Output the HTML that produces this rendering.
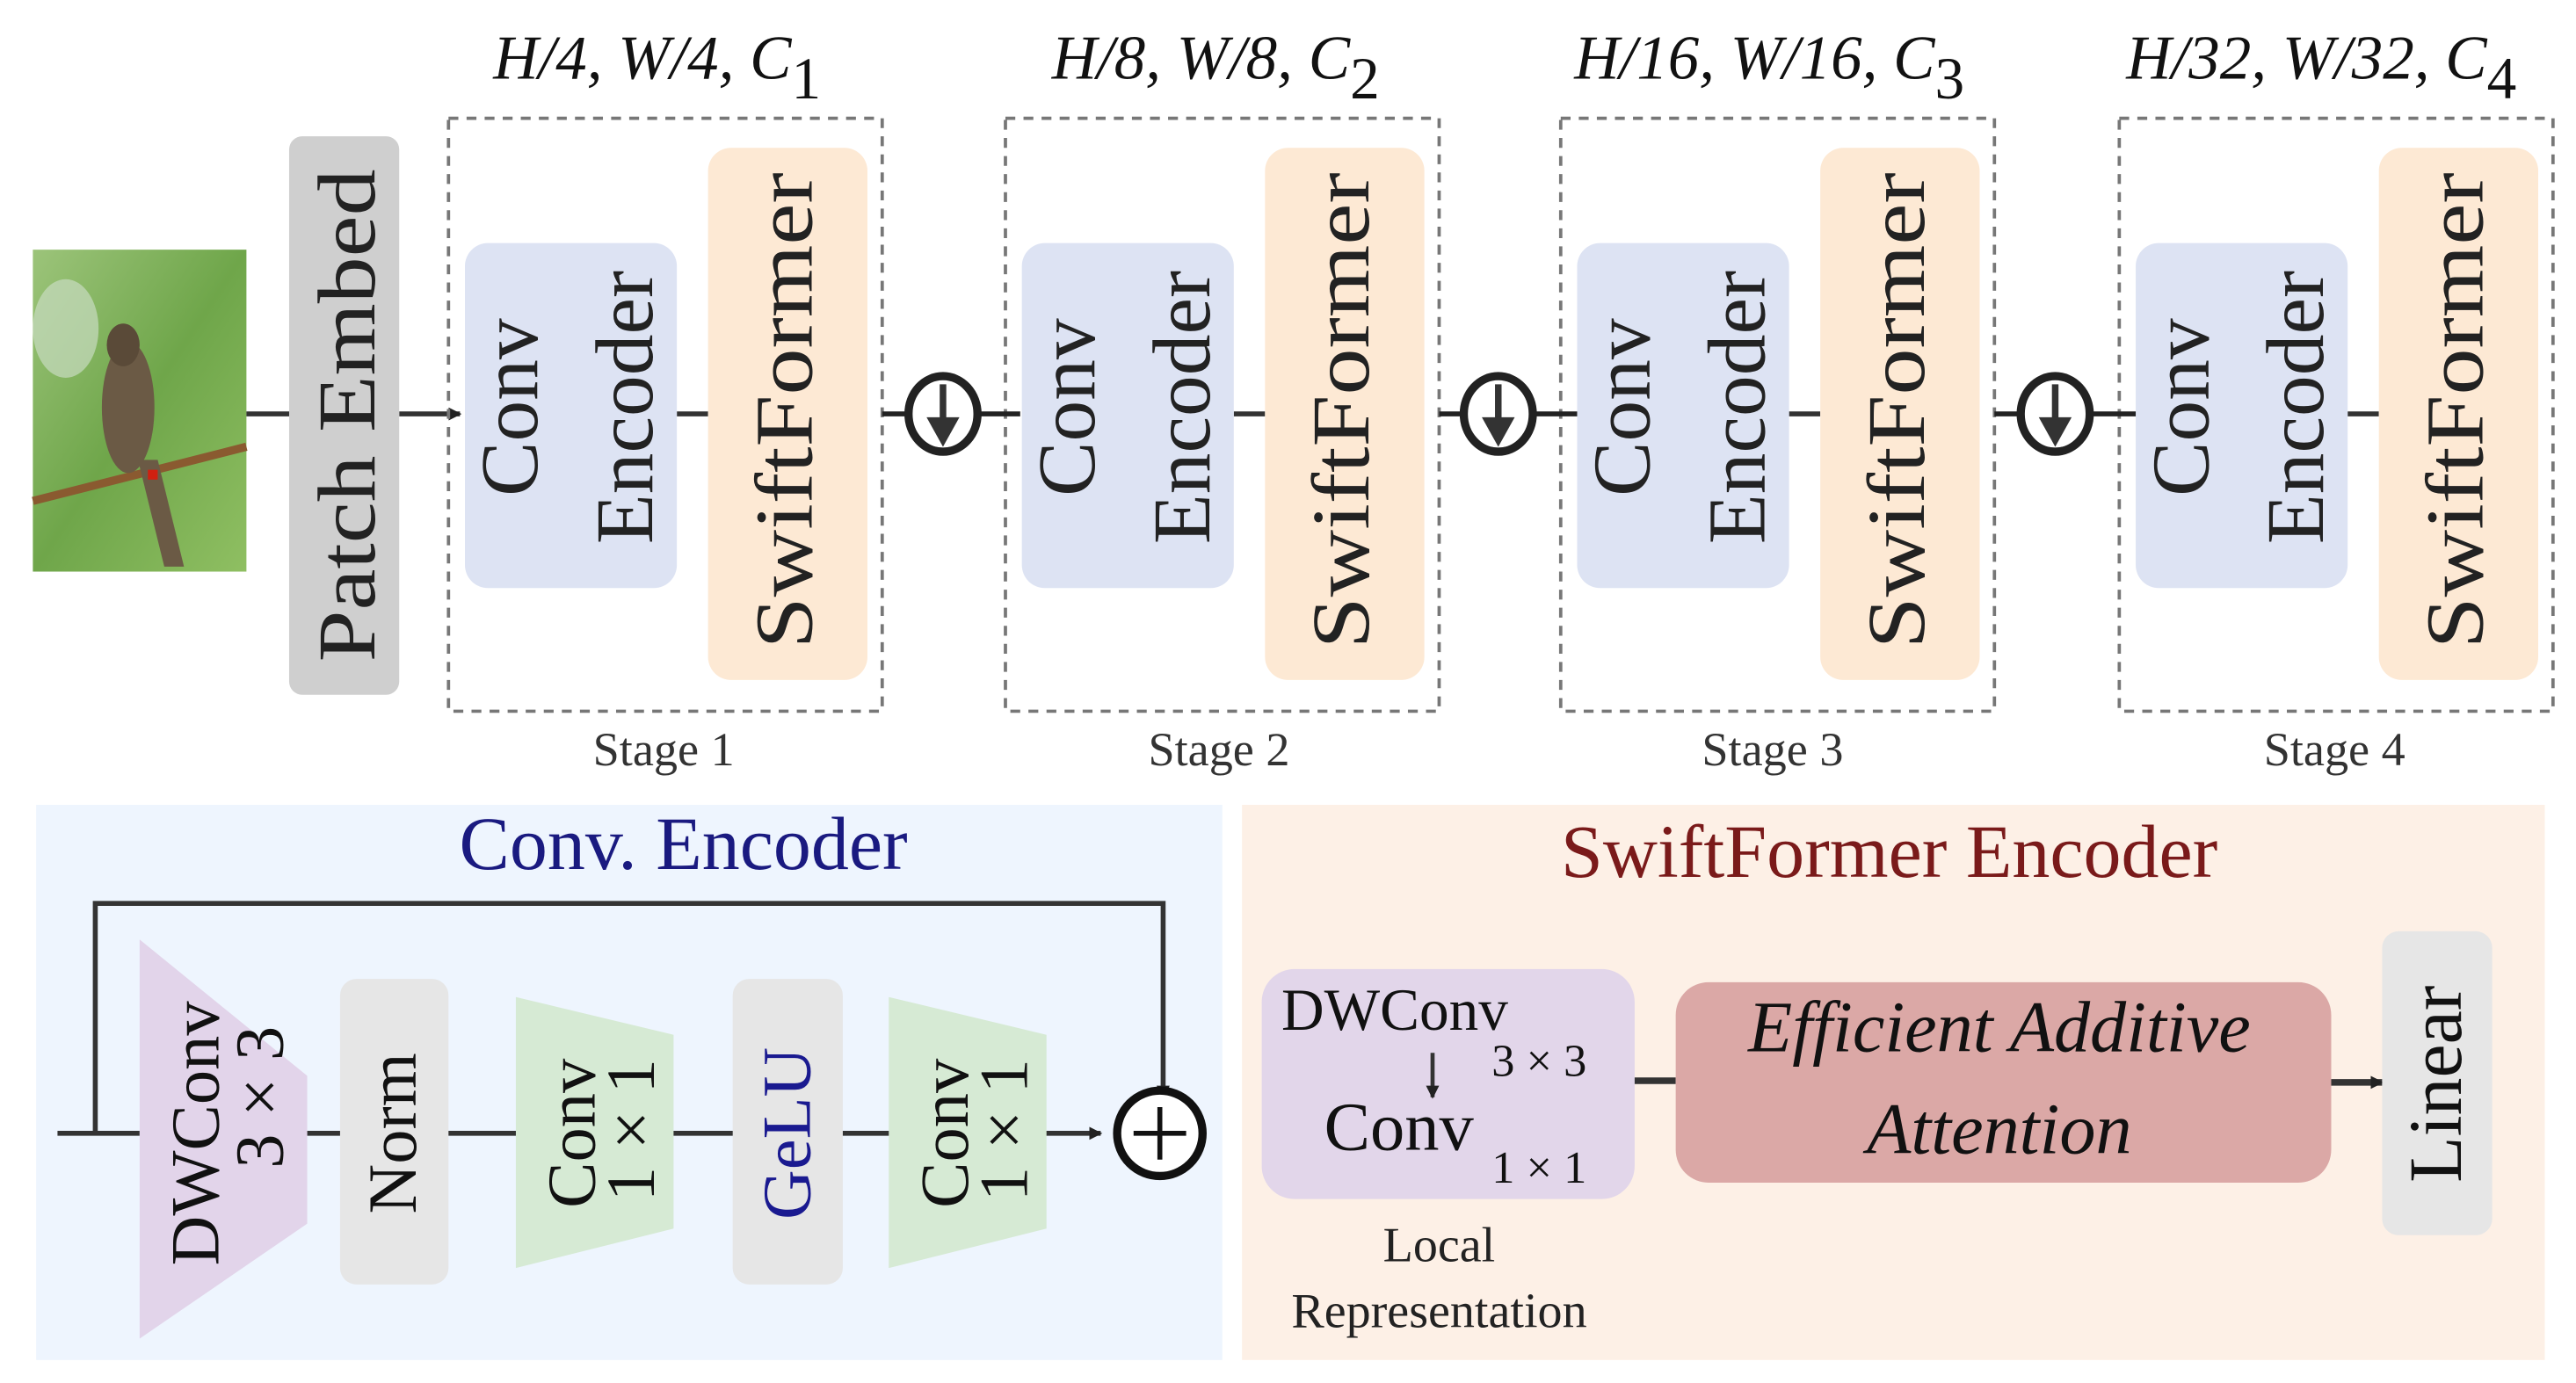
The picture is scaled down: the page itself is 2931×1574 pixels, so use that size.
<!DOCTYPE html>
<html><head><meta charset="utf-8"><style>
html,body{margin:0;padding:0;background:#fff;}
svg{display:block;}
svg text{font-family:"Liberation Serif","Times New Roman","Tinos","DejaVu Serif","Noto Serif CJK SC",serif !important;}
</style></head><body>
<svg width="2931" height="1574" viewBox="0 0 1568 842" preserveAspectRatio="none" xmlns="http://www.w3.org/2000/svg">
<defs>
<marker id="ah" markerWidth="8" markerHeight="8" refX="7" refY="4" orient="auto" markerUnits="userSpaceOnUse"><path d="M0,0 L8,4 L0,8 z" fill="#222"/></marker>
<linearGradient id="bg" x1="0" y1="0" x2="1" y2="1"><stop offset="0" stop-color="#9cc47a"/><stop offset="0.5" stop-color="#6fa64a"/><stop offset="1" stop-color="#8fbf62"/></linearGradient>
</defs>
<rect x="20" y="152" width="130" height="196" fill="url(#bg)"/>
<ellipse cx="40" cy="200" rx="20" ry="30" fill="#c8dcc0" opacity="0.7"/>
<line x1="20" y1="305" x2="150" y2="272" stroke="#8a5a30" stroke-width="5"/>
<ellipse cx="78" cy="248" rx="16" ry="40" fill="#6b5a45"/>
<ellipse cx="75" cy="210" rx="10" ry="13" fill="#5a4a38"/>
<polygon points="84,280 100,345 112,345 96,280" fill="#6b5a45"/>
<rect x="90" y="286" width="6" height="6" fill="#d02010"/>
<line x1="150" y1="252" x2="176" y2="252" stroke="#333" stroke-width="3"/>
<line x1="243" y1="252" x2="280" y2="252" stroke="#333" stroke-width="3" marker-end="url(#ah)"/>
<rect x="176" y="83" width="67" height="340" rx="8" fill="#cfcfcf"/>
<text transform="translate(228,253) rotate(-90)" text-anchor="middle" font-size="50" fill="#222" textLength="300" lengthAdjust="spacingAndGlyphs">Patch Embed</text>

<g id="stage">
<rect x="273" y="72" width="264" height="361" fill="none" stroke="#777" stroke-width="2" stroke-dasharray="6,5"/>
<line x1="412" y1="252" x2="431" y2="252" stroke="#333" stroke-width="3"/>
<rect x="283" y="148" width="129" height="210" rx="14" fill="#dde3f3"/>
<rect x="431" y="90" width="97" height="324" rx="14" fill="#fde9d4"/>
<text transform="translate(327,248) rotate(-90)" text-anchor="middle" font-size="50" fill="#222">Conv</text>
<text transform="translate(397,248) rotate(-90)" text-anchor="middle" font-size="50" fill="#222">Encoder</text>
<text transform="translate(494,250) rotate(-90)" text-anchor="middle" font-size="50" fill="#222" textLength="290" lengthAdjust="spacingAndGlyphs">SwiftFormer</text>
</g>
<use href="#stage" x="339"/>
<use href="#stage" x="677"/>
<use href="#stage" x="1017"/>

<g stroke="#222" stroke-width="3">
<line x1="537" y1="252" x2="621" y2="252"/>
<line x1="876" y1="252" x2="960" y2="252"/>
<line x1="1214" y1="252" x2="1300" y2="252"/>
</g>
<g id="ds">
<ellipse cx="574" cy="252" rx="21" ry="23" fill="#fff" stroke="#222" stroke-width="5"/>
<line x1="574" y1="234" x2="574" y2="256" stroke="#333" stroke-width="4"/>
<polygon points="564,254 584,254 574,272" fill="#333"/>
</g>
<use href="#ds" x="338"/>
<use href="#ds" x="677"/>

<g font-size="38" font-style="italic" fill="#111" text-anchor="middle">
<text x="400" y="48">H/4, W/4, C<tspan font-style="normal" font-size="36" dy="12">1</tspan></text>
<text x="740" y="48">H/8, W/8, C<tspan font-style="normal" font-size="36" dy="12">2</tspan></text>
<text x="1077" y="48">H/16, W/16, C<tspan font-style="normal" font-size="36" dy="12">3</tspan></text>
<text x="1413" y="48">H/32, W/32, C<tspan font-style="normal" font-size="36" dy="12">4</tspan></text>
</g>
<g font-size="29" fill="#333" text-anchor="middle">
<text x="404" y="466">Stage  1</text>
<text x="742" y="466">Stage 2</text>
<text x="1079" y="466">Stage 3</text>
<text x="1421" y="466">Stage 4</text>
</g>

<rect x="22" y="490" width="722" height="338" fill="#eef5fe"/>
<text x="416" y="529" text-anchor="middle" font-size="46" fill="#1a1a80">Conv. Encoder</text>
<polyline points="58,690 58,550 708,550 708,668" fill="none" stroke="#333" stroke-width="3" marker-end="url(#ah)"/>
<line x1="35" y1="690" x2="85" y2="690" stroke="#333" stroke-width="3"/>
<line x1="187" y1="690" x2="670" y2="690" stroke="#333" stroke-width="3" marker-end="url(#ah)"/>
<polygon points="85,572 187,655 187,745 85,815" fill="#e2d4ea"/>
<rect x="207" y="596" width="66" height="186" rx="10" fill="#e6e6e6"/>
<polygon points="314,607 410,630 410,748 314,772" fill="#d6ead4"/>
<rect x="446" y="596" width="67" height="186" rx="10" fill="#e6e6e6"/>
<polygon points="541,607 637,630 637,748 541,772" fill="#d6ead4"/>
<g font-size="42" fill="#111" text-anchor="middle">
<text transform="translate(133,690) rotate(-90)">DWConv</text>
<text transform="translate(172,668) rotate(-90)">3 × 3</text>
<text transform="translate(253,690) rotate(-90)">Norm</text>
<text transform="translate(362,690) rotate(-90)">Conv</text>
<text transform="translate(398,688) rotate(-90)">1 × 1</text>
<text transform="translate(493,690) rotate(-90)" fill="#1a1a90">GeLU</text>
<text transform="translate(589,690) rotate(-90)">Conv</text>
<text transform="translate(625,688) rotate(-90)">1 × 1</text>
</g>
<circle cx="706" cy="690" r="26" fill="#fff" stroke="#111" stroke-width="5"/>
<line x1="690" y1="690" x2="722" y2="690" stroke="#111" stroke-width="3"/>
<line x1="706" y1="674" x2="706" y2="706" stroke="#111" stroke-width="3"/>

<rect x="756" y="490" width="793" height="338" fill="#fdf0e6"/>
<text x="1150" y="534" text-anchor="middle" font-size="46" fill="#7a1a1a">SwiftFormer Encoder</text>
<rect x="768" y="590" width="227" height="140" rx="20" fill="#e2d6ea"/>
<text x="780" y="627" font-size="36" fill="#111">DWConv</text>
<text x="908" y="655" font-size="28" fill="#111">3 × 3</text>
<line x1="872" y1="641" x2="872" y2="668" stroke="#333" stroke-width="2.5" marker-end="url(#ah)"/>
<text x="806" y="700" font-size="42" fill="#111">Conv</text>
<text x="908" y="720" font-size="28" fill="#111">1 × 1</text>
<text x="876" y="768" text-anchor="middle" font-size="30" fill="#222">Local</text>
<text x="876" y="808" text-anchor="middle" font-size="30" fill="#222">Representation</text>
<line x1="995" y1="658" x2="1020" y2="658" stroke="#333" stroke-width="4"/>
<rect x="1020" y="598" width="399" height="122" rx="20" fill="#dba8a6"/>
<text x="1217" y="640" text-anchor="middle" font-size="44" font-style="italic" fill="#111">Efficient Additive</text>
<text x="1217" y="702" text-anchor="middle" font-size="44" font-style="italic" fill="#111">Attention</text>
<line x1="1419" y1="659" x2="1450" y2="659" stroke="#333" stroke-width="4" marker-end="url(#ah)"/>
<rect x="1450" y="567" width="67" height="185" rx="10" fill="#e6e6e6"/>
<text transform="translate(1498,660) rotate(-90)" text-anchor="middle" font-size="46" fill="#111">Linear</text>
</svg>
</body></html>
